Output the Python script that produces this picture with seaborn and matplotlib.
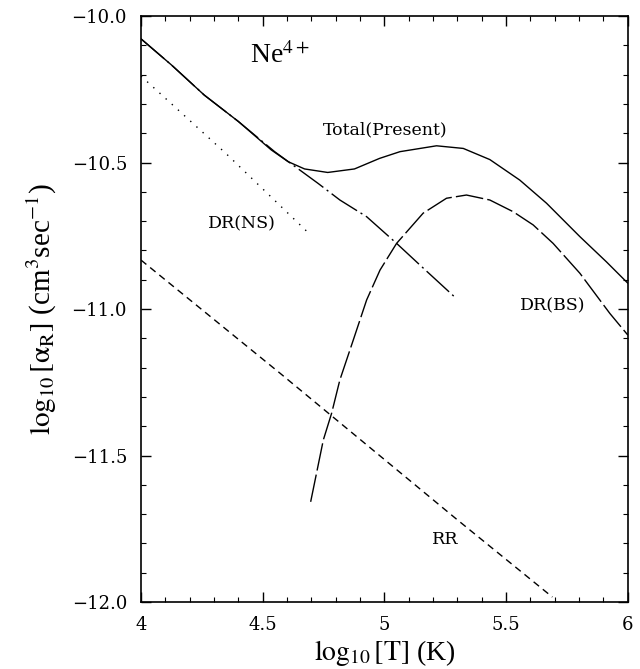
import matplotlib
matplotlib.use("Agg")
import matplotlib.pyplot as plt
from matplotlib.ticker import MultipleLocator, FixedFormatter, FixedLocator
import seaborn as sns
import pandas as pd

# values: log10 T and log10 alpha_R
total_t = [4.0, 4.125, 4.26, 4.40, 4.535, 4.604, 4.672, 4.767, 4.877, 4.98,
           5.064, 5.214, 5.324, 5.433, 5.556, 5.666, 5.803, 5.912, 6.0]
total_a = [-10.078, -10.167, -10.27, -10.36, -10.457, -10.497, -10.522, -10.534,
           -10.522, -10.486, -10.463, -10.443, -10.452, -10.49, -10.56, -10.639,
           -10.753, -10.839, -10.912]

drp_t = [4.0, 4.125, 4.26, 4.40, 4.549, 4.727, 4.817, 4.927, 5.05, 5.146, 5.29]
drp_a = [-10.078, -10.167, -10.27, -10.36, -10.463, -10.571, -10.628, -10.685,
         -10.776, -10.85, -10.96]

drbs_t = [4.697, 4.749, 4.783, 4.817, 4.872, 4.927, 4.982, 5.05, 5.159, 5.255,
          5.337, 5.433, 5.529, 5.611, 5.693, 5.803, 5.926, 6.0]
drbs_a = [-11.658, -11.447, -11.356, -11.242, -11.106, -10.969, -10.867, -10.776,
          -10.673, -10.622, -10.611, -10.628, -10.668, -10.713, -10.776, -10.878,
          -11.015, -11.089]

drns_t = [4.0, 4.35, 4.69]
drns_a = [-10.205, -10.47, -10.742]

rr_t = [4.0, 4.571, 5.296, 5.69]
rr_a = [-10.833, -11.219, -11.717, -11.983]

xticks = [4.0, 4.5, 5.0, 5.5, 6.0]
xtick_labels = ["4", "4.5", "5", "5.5", "6"]
yticks = [-12.0, -11.5, -11.0, -10.5, -10.0]
ytick_labels = ["\u221212.0", "\u221211.5", "\u221211.0", "\u221210.5", "\u221210.0"]

sns.set_theme(style="ticks")
plt.rcParams["font.family"] = ["DejaVu Serif"]
plt.rcParams["mathtext.fontset"] = "stix"
plt.rcParams.update({"text.color": "black", "axes.labelcolor": "black",
                     "xtick.color": "black", "ytick.color": "black"})
times = ["Liberation Serif", "DejaVu Serif"]

fig = plt.figure(figsize=(6.4, 6.69), dpi=100)
ax = fig.add_axes([0.2203, 0.1001, 0.7607, 0.8760])

lw = 1.0
sns.lineplot(data=pd.DataFrame({"t": drp_t, "a": drp_a}), x="t", y="a", ax=ax,
             color="black", lw=lw, sort=False, estimator=None,
             linestyle=(0, (22, 3, 1.5, 3)))
sns.lineplot(data=pd.DataFrame({"t": total_t, "a": total_a}), x="t", y="a", ax=ax,
             color="black", lw=lw, sort=False, estimator=None)
sns.lineplot(data=pd.DataFrame({"t": drbs_t, "a": drbs_a}), x="t", y="a", ax=ax,
             color="black", lw=lw, sort=False, estimator=None,
             linestyle=(0, (20, 3)))
sns.lineplot(data=pd.DataFrame({"t": drns_t, "a": drns_a}), x="t", y="a", ax=ax,
             color="black", lw=lw, sort=False, estimator=None,
             linestyle=(0, (1, 5)))
sns.lineplot(data=pd.DataFrame({"t": rr_t, "a": rr_a}), x="t", y="a", ax=ax,
             color="black", lw=lw, sort=False, estimator=None,
             linestyle=(0, (5, 3.5)))

ax.set_xlim(4, 6)
ax.set_ylim(-12, -10)

ax.xaxis.set_major_locator(FixedLocator(xticks))
ax.xaxis.set_major_formatter(FixedFormatter(xtick_labels))
ax.yaxis.set_major_locator(FixedLocator(yticks))
ax.yaxis.set_major_formatter(FixedFormatter(ytick_labels))
ax.xaxis.set_minor_locator(MultipleLocator(0.1))
ax.yaxis.set_minor_locator(MultipleLocator(0.1))
ax.tick_params(which="both", direction="in", top=True, right=True,
               color="black", labelcolor="black", labelsize=13, pad=10)
ax.tick_params(which="major", length=7, width=1)
ax.tick_params(which="minor", length=3.5, width=0.8)
for s in ax.spines.values():
    s.set_linewidth(1.2)
    s.set_color("black")

ax.set_xlabel(r"$\log_{10}[\mathrm{T}]$ (K)", fontsize=20, labelpad=3,
              family=times)
ax.set_ylabel(r"$\log_{10}[\mathrm{\alpha}_{\mathrm{R}}]$ (cm$^3$sec$^{-1}$)",
              fontsize=21, labelpad=9, family=times)

ax.text(4.448, -10.16, r"Ne$^{4+}$", fontsize=20, ha="left", va="baseline",
        family=times)
ax.text(5.002, -10.389, "Total(Present)", fontsize=12.5, ha="center", va="center")
ax.text(4.415, -10.71, "DR(NS)", fontsize=12.5, ha="center", va="center")
ax.text(5.69, -10.99, "DR(BS)", fontsize=12.5, ha="center", va="center")
ax.text(5.25, -11.788, "RR", fontsize=12.5, ha="center", va="center")

fig.savefig("out.png", dpi=100)
